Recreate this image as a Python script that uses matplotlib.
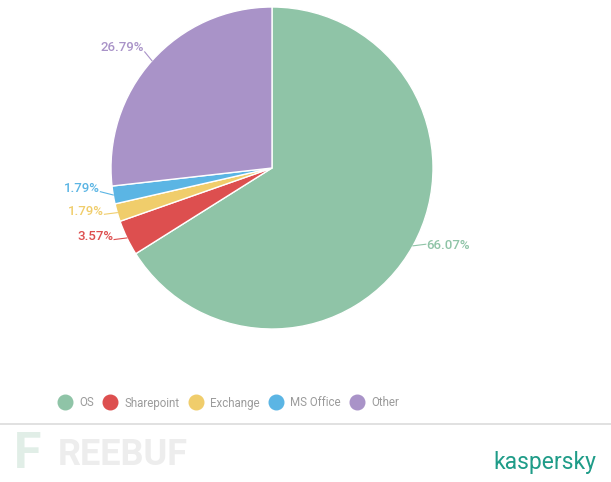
import numpy as np
import matplotlib
matplotlib.use("Agg")
import matplotlib.pyplot as plt
from matplotlib.lines import Line2D

categories = ["OS", "Sharepoint", "Exchange", "MS Office", "Other"]
values = [66.07, 3.57, 1.79, 1.79, 26.79]
colors = ["#8fc4a7", "#dd4f4f", "#f0cd6b", "#5bb5e4", "#a993c8"]

W, H = 611, 482
fig = plt.figure(figsize=(W / 100, H / 100), dpi=100)
fig.patch.set_facecolor("white")

# pie axes: center (272,168), radius 161 px
cx, cy, r = 272, 168, 161
ax = fig.add_axes([(cx - r) / W, (H - cy - r) / H, 2 * r / W, 2 * r / H])

wedges, _ = ax.pie(values, colors=colors, startangle=90, counterclock=False,
                   radius=1.0, wedgeprops=dict(edgecolor="white", linewidth=1.0))
ax.set_xlim(-1, 1)
ax.set_ylim(-1, 1)
ax.set_aspect("equal")
ax.axis("off")

font = "Roboto"
# compute label anchor points, then push left-side labels apart vertically
info = []
for w, v, c in zip(wedges, values, colors):
    ang = np.deg2rad((w.theta1 + w.theta2) / 2)
    info.append([np.cos(ang), np.sin(ang), v, c])

min_gap = 0.14
left = sorted([i for i in info if i[0] < 0 and i[1] < 0.5], key=lambda i: i[1])
prev = None
for i in left:
    ty = i[1] + 0.01
    if prev is not None and ty - prev < min_gap:
        ty = prev + min_gap
    i.append(ty)
    prev = ty

for i in info:
    x0, y0, v, c = i[:4]
    if len(i) == 5:
        ty = i[4]
        x1, y1 = x0 - 0.08, ty - 0.02
        xt, ha = x1 - 0.005, "right"
    elif y0 >= 0.5:
        x1, y1 = x0 - 0.045, y0 + 0.055
        ty = y1 + 0.03
        xt, ha = x1 - 0.005, "right"
    else:
        x1, y1 = x0 + 0.08, y0 + 0.01
        ty = y1 - 0.005
        xt, ha = x1 + 0.005, "left"
    ax.plot([x0, x1], [y0, y1], color=c, lw=0.8, clip_on=False)
    ax.text(xt, ty, f"{v:.2f}%", color=c, fontsize=9.5, ha=ha, va="center",
            family=font, fontweight="medium")

# legend
handles = [Line2D([0], [0], marker="o", linestyle="none", markersize=10.5,
                  markerfacecolor=c, markeredgecolor=c) for c in colors]
leg = fig.legend(handles, categories, loc="center", ncol=5,
                 bbox_to_anchor=(229 / W, 1 - 403 / H), frameon=False,
                 handlelength=1.0, handletextpad=0.75, columnspacing=0.9,
                 prop=dict(family=font, size=8.3))
for t in leg.get_texts():
    t.set_color("#9b9b9b")

# separator line
fig.add_artist(Line2D([0, 1], [1 - 424 / H, 1 - 424 / H], color="#dcdcdc", lw=1.2))

# watermark and brand
fig.text(14 / W, 1 - 455 / H, "F", color="#e1eee7", fontsize=36,
         fontweight="bold", family=font, ha="left", va="center")
fig.text(58 / W, 1 - 455 / H, "REEBUF", color="#ededed", fontsize=26,
         fontweight="bold", family=font, ha="left", va="center")
fig.text(545 / W, 1 - 463 / H, "kaspersky", color="#1f9c88", fontsize=16.5,
         family=font, ha="center", va="center")

fig.savefig("out.png", dpi=100, facecolor="white")
